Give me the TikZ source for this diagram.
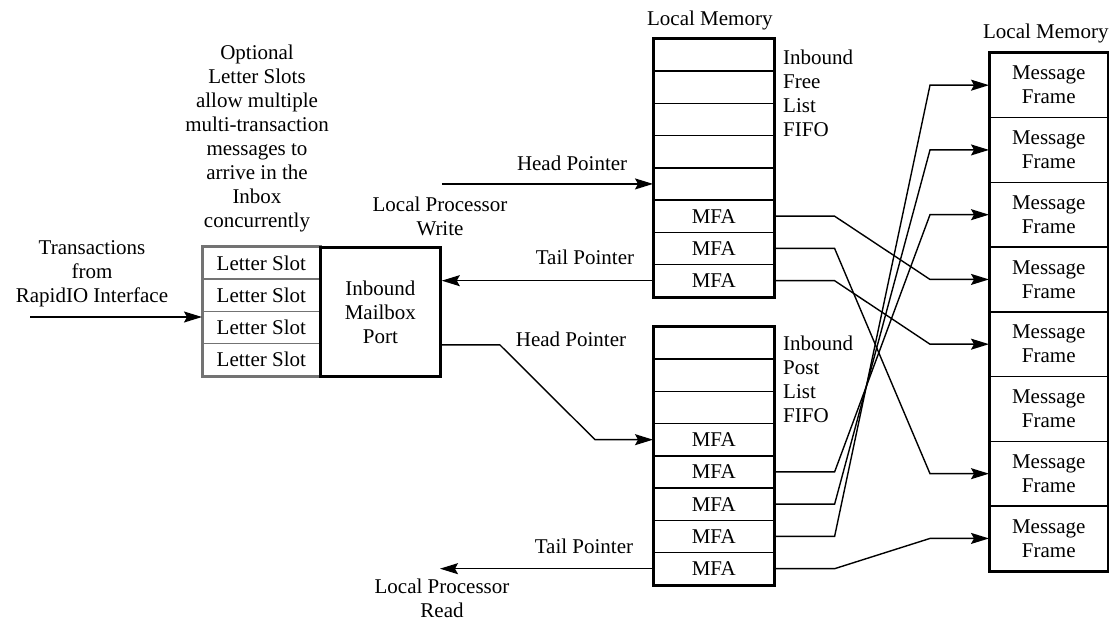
\documentclass[tikz,border=0pt]{standalone}
\usepackage{fontspec}
\setmainfont{Liberation Serif}
\usetikzlibrary{positioning,arrows.meta}
\definecolor{slotgray}{gray}{0.45}

\begin{document}
\begin{tikzpicture}[x=1pt, y=-1pt,
  every node/.style={font=\fontsize{21}{24}\selectfont, inner sep=0pt},
  cell/.style={draw, line width=1.6pt, minimum width=120pt, minimum height=32.25pt, anchor=north west},
  slot/.style={draw=slotgray, line width=1.6pt, minimum width=117pt, minimum height=32.25pt, anchor=north west},
  msgframe/.style={draw, line width=1.6pt, minimum width=118pt, minimum height=64.75pt, anchor=north west, align=center},
  outline/.style={line width=2.8pt},
  wire/.style={line width=1.4pt},
  ptr/.style={wire, -{Stealth[length=18pt, width=11pt, inset=3pt]}},
  note/.style={align=center},
  fifolabel/.style={align=left, anchor=north west}
]
\useasboundingbox (0,0) rectangle (1109,622);

% free list fifo
\foreach \i in {1,...,8}
  \node[cell] (f\i) at (653,{38+(\i-1)*32.25}) {\ifnum\i>5 MFA\fi};
\draw[outline] (f1.north west) rectangle (f8.south east);
\node[above=8pt of f1, xshift=-4pt] (lmf) {Local Memory};
\node[fifolabel] (fl) at (783,50) {Inbound\\Free\\List\\FIFO};

% post list fifo
\foreach \i in {1,...,8}
  \node[cell] (p\i) at (653,{326+(\i-1)*32.25}) {\ifnum\i>3 MFA\fi};
\draw[outline] (p1.north west) rectangle (p8.south east);
\node[fifolabel] (pl) at (783,336) {Inbound\\Post\\List\\FIFO};

% message frames
\foreach \i in {1,...,8}
  \node[msgframe] (m\i) at (989,{52+(\i-1)*64.75}) {Message\\Frame};
\draw[outline] (m1.north west) rectangle (m8.south east);
\node[above=8.5pt of m1, xshift=-3pt] (lmm) {Local Memory};

% mailbox
\foreach \i in {1,...,4}
  \node[slot] (l\i) at (202,{246+(\i-1)*32.25}) {Letter Slot};
\draw[outline, slotgray] (l1.north west) rectangle (l4.south east);
\node[draw, outline, minimum width=120pt, minimum height=129pt, anchor=north west, align=center] (port) at (319,246) {Inbound\\Mailbox\\Port};

\node[note] (opt) at (257,138) {Optional\\Letter Slots\\allow multiple\\multi-transaction\\messages to\\arrive in the\\Inbox\\concurrently};
\node[note] (rio) at (92,274) {Transactions\\from\\RapidIO Interface};
\node[note] (wr) at (440,216) {Local Processor\\Write};
\node[note] (rdl) at (442,598) {Local Processor\\Read};
\node (hp) at (571,339) {Head Pointer};

% pointers
\coordinate (in) at (30,317);
\coordinate (rd) at (440,0);
\draw[ptr] (in) -- (in -| l1.west);
\draw[ptr] (f5.west -| port.east) -- (f5.west) node[above=13pt, pos=.617] {Head Pointer};
\draw[ptr] (f8.west) -- (f8.west -| port.east) node[above=15pt, pos=.322] {Tail Pointer};
\draw[ptr] ([yshift=33pt]port.south east) -- ++(58,0) -- ([xshift=-58pt]p4.west) -- (p4.west);
\draw[ptr] (p8.west) -- (p8.west -| rd) node[above=14pt, pos=.324] {Tail Pointer};

% mfa to frames
\foreach \a/\b in {f6/m4, f7/m7, f8/m5, p5/m3, p6/m2, p7/m1, p8/m8}
  \draw[ptr] (\a.east) -- ++(60,0) -- ([xshift=-59pt]\b.west) -- (\b.west);
\end{tikzpicture}
\end{document}
